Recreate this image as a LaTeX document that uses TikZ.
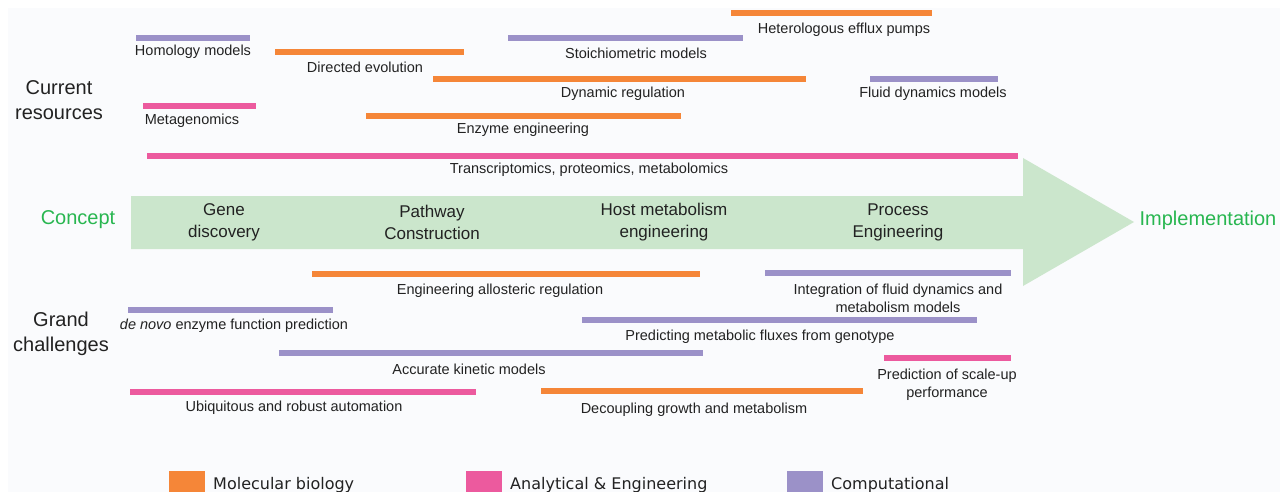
\documentclass[tikz,border=0pt]{standalone}
\usepackage{fontspec}
\setmainfont{Liberation Sans}
\newfontfamily\legfont{DejaVu Sans}
\definecolor{bgc}{RGB}{250,251,253}
\definecolor{molc}{RGB}{245,134,56}
\definecolor{anac}{RGB}{236,90,158}
\definecolor{compc}{RGB}{155,145,200}
\definecolor{arrc}{RGB}{203,230,204}
\definecolor{grnc}{RGB}{40,182,80}
\definecolor{txtc}{RGB}{34,34,34}
\tikzset{
  bar/.style={line width=6pt},
  mol/.style={bar,draw=molc},
  ana/.style={bar,draw=anac},
  comp/.style={bar,draw=compc},
  lab/.style={font=\fontsize{14.5}{18}\selectfont,text=txtc,inner sep=0pt,align=center,yshift=-2pt},
  stage/.style={font=\fontsize{17}{22}\selectfont,text=txtc,inner sep=0pt,align=center},
  side/.style={font=\fontsize{20}{25}\selectfont,text=txtc,inner sep=0pt,align=center},
  endlab/.style={font=\fontsize{20}{24}\selectfont,text=grnc,inner sep=0pt,yshift=-1.5pt},
  legtxt/.style={font=\legfont\fontsize{16}{19}\selectfont,text=txtc,inner sep=0pt,anchor=west},
}
\begin{document}
\begin{tikzpicture}[x=1pt,y=-1pt]
\useasboundingbox (0,0) rectangle (1280,492);
\fill[bgc] (8,8) rectangle (1280,492);
% big arrow
\fill[arrc] (131,196) -- (1023,196) -- (1023,158) -- (1134,222) -- (1023,286) -- (1023,249) -- (131,249) -- cycle;
\node[endlab] (concept) at (78,218) {Concept};
\node[endlab] (impl) at (1208,219) {Implementation};
\node[stage] (s1) at (224,222) {Gene\\discovery};
\node[stage] (s2) at (432,222) {Pathway\\Construction};
\node[stage] (s3) at (664,222) {Host metabolism\\engineering};
\node[stage] (s4) at (898,222) {Process\\Engineering};
% side labels
\node[side] (cur) at (59,100) {Current\\resources};
\node[side] (grand) at (61,334) {Grand\\challenges};
% current resources bars
\draw[comp] (136,38) -- (250,38);
\node[lab] (l1) at (193,50) {Homology models};
\draw[mol] (275,52) -- (464,52);
\node[lab] (l2) at (365,65) {Directed evolution};
\draw[comp] (508,38) -- (743,38);
\node[lab] (l3) at (636,51) {Stoichiometric models};
\draw[mol] (731,13) -- (932,13);
\node[lab] (l4) at (844,28) {Heterologous efflux pumps};
\draw[mol] (433,79) -- (806,79);
\node[lab] (l5) at (623,92) {Dynamic regulation};
\draw[comp] (870,79) -- (998,79);
\node[lab] (l6) at (933,92) {Fluid dynamics models};
\draw[ana] (143,106) -- (256,106);
\node[lab] (l7) at (192,119) {Metagenomics};
\draw[mol] (366,116) -- (681,116);
\node[lab] (l8) at (523,128) {Enzyme engineering};
\draw[ana] (147,156) -- (1018,156);
\node[lab] (l9) at (589,168) {Transcriptomics, proteomics, metabolomics};
% grand challenges bars
\draw[mol] (312,274) -- (700,274);
\node[lab] (g1) at (500,289) {Engineering allosteric regulation};
\draw[comp] (765,273) -- (1011,273);
\node[lab] (g2) at (898,296) {Integration of fluid dynamics and\\metabolism models};
\draw[comp] (128,310) -- (333,310);
\node[lab] (g3) at (234,324) {\itshape de novo\upshape{} enzyme function prediction};
\draw[comp] (582,320) -- (977,320);
\node[lab] (g4) at (760,335) {Predicting metabolic fluxes from genotype};
\draw[comp] (279,353) -- (703,353);
\node[lab] (g5) at (469,367) {Accurate kinetic models};
\draw[ana] (884,358) -- (1011,358);
\node[lab] (g6) at (947,383) {Prediction of scale-up\\performance};
\draw[ana] (130,392) -- (476,392);
\node[lab] (g7) at (294,406) {Ubiquitous and robust automation};
\draw[mol] (541,391) -- (863,391);
\node[lab] (g8) at (694,408) {Decoupling growth and metabolism};
% legend
\fill[molc] (169,471) rectangle (205,492);
\node[legtxt] (k1) at (213,485) {Molecular biology};
\fill[anac] (466,471) rectangle (502,492);
\node[legtxt] (k2) at (510,485) {Analytical \& Engineering};
\fill[compc] (787,471) rectangle (823,492);
\node[legtxt] (k3) at (831,485) {Computational};
\end{tikzpicture}
\end{document}
